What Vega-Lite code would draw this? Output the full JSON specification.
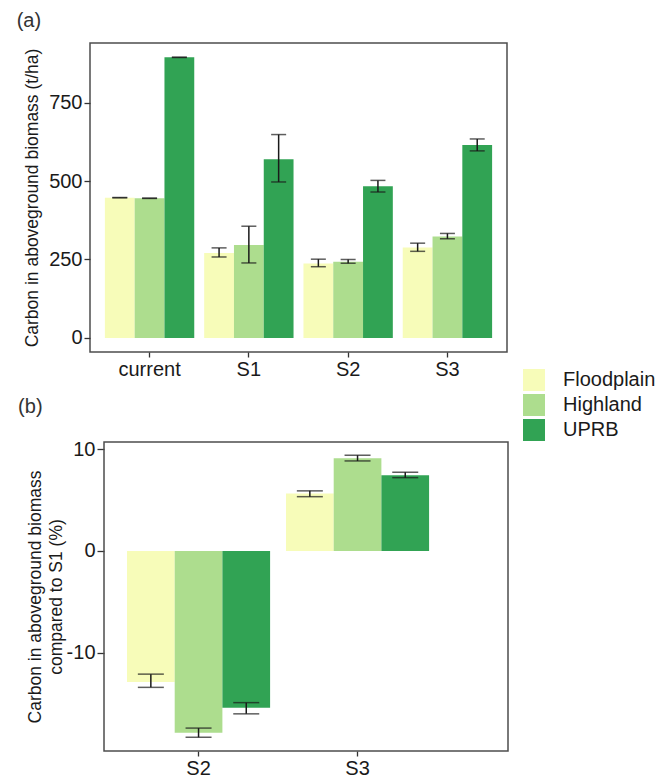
{
  "$schema": "https://vega.github.io/schema/vega-lite/v6.json",
  "padding": {"left": 15, "top": 10, "right": 5, "bottom": 5},
  "spacing": 17,
  "config": {
    "font": "Liberation Sans",
    "view": {"stroke": "#4d4d4d", "strokeWidth": 1.5},
    "axis": {"grid": false, "domain": false, "tickColor": "#333333", "tickSize": 6, "tickWidth": 1.3, "labelColor": "#1a1a1a", "labelFontSize": 20, "titleFontSize": 17.5, "titleFontWeight": "normal", "titleColor": "#1a1a1a", "labelPadding": 2},
    "title": {"fontSize": 20, "fontWeight": "normal", "anchor": "start", "color": "#333333", "frame": "bounds"}
  },
  "resolve": {"scale": {"color": "shared", "xOffset": "independent"}},
  "vconcat": [
    {
      "title": {"text": "(a)", "offset": 12, "dx": -7},
      "width": 417,
      "height": 309,
      "data": {"values": [
        {"scenario": "current", "region": "Floodplain", "value": 447, "lo": 446.5, "hi": 447.5},
        {"scenario": "current", "region": "Highland", "value": 445, "lo": 444.5, "hi": 445.5},
        {"scenario": "current", "region": "UPRB", "value": 894, "lo": 893.5, "hi": 894.5},
        {"scenario": "S1", "region": "Floodplain", "value": 271, "lo": 258, "hi": 287},
        {"scenario": "S1", "region": "Highland", "value": 296, "lo": 239, "hi": 356},
        {"scenario": "S1", "region": "UPRB", "value": 569, "lo": 497, "hi": 648},
        {"scenario": "S2", "region": "Floodplain", "value": 237, "lo": 227, "hi": 251},
        {"scenario": "S2", "region": "Highland", "value": 243, "lo": 238, "hi": 250},
        {"scenario": "S2", "region": "UPRB", "value": 483, "lo": 465, "hi": 502},
        {"scenario": "S3", "region": "Floodplain", "value": 288, "lo": 276, "hi": 302},
        {"scenario": "S3", "region": "Highland", "value": 323, "lo": 316, "hi": 333},
        {"scenario": "S3", "region": "UPRB", "value": 615, "lo": 596, "hi": 634}
      ]},
      "encoding": {
        "x": {"field": "scenario", "type": "nominal", "sort": ["current", "S1", "S2", "S3"], "scale": {"paddingInner": 0.1, "paddingOuter": 0.15}, "axis": {"title": null, "labelAngle": 0, "tickSize": 5}},
        "xOffset": {"field": "region", "type": "nominal", "sort": ["Floodplain", "Highland", "UPRB"], "scale": {"paddingInner": 0, "paddingOuter": 0}}
      },
      "layer": [
        {
          "mark": {"type": "bar"},
          "encoding": {
            "y": {"field": "value", "type": "quantitative", "scale": {"domain": [-44.7, 939.7], "nice": false, "zero": false}, "axis": {"values": [0, 250, 500, 750], "title": "Carbon in aboveground biomass (t/ha)", "titlePadding": 7}},
            "y2": {"datum": 0},
            "color": {"field": "region", "type": "nominal", "scale": {"domain": ["Floodplain", "Highland", "UPRB"], "range": ["#f7fcb9", "#addd8e", "#31a354"]}, "legend": {"title": null, "orient": "none", "legendX": 433, "legendY": 326, "symbolType": "square", "symbolSize": 484, "symbolStrokeWidth": 0, "labelFontSize": 20, "labelColor": "#1a1a1a", "rowPadding": 3, "labelOffset": 18}}
          }
        },
        {
          "mark": {"type": "rule", "color": "#1a1a1a", "strokeWidth": 1.5},
          "encoding": {"y": {"field": "lo", "type": "quantitative"}, "y2": {"field": "hi"}}
        },
        {
          "mark": {"type": "tick", "color": "#1a1a1a", "thickness": 1.5, "size": 15},
          "encoding": {"y": {"field": "lo", "type": "quantitative"}}
        },
        {
          "mark": {"type": "tick", "color": "#1a1a1a", "thickness": 1.5, "size": 15},
          "encoding": {"y": {"field": "hi", "type": "quantitative"}}
        }
      ]
    },
    {
      "title": {"text": "(b)", "offset": 22, "dx": -8},
      "width": 418,
      "height": 309,
      "view": {"stroke": null},
      "data": {"values": [
        {"scenario": "S2", "region": "Floodplain", "value": -12.87, "lo": -13.4, "hi": -12.1},
        {"scenario": "S2", "region": "Highland", "value": -17.85, "lo": -18.3, "hi": -17.4},
        {"scenario": "S2", "region": "UPRB", "value": -15.4, "lo": -16.0, "hi": -14.9},
        {"scenario": "S3", "region": "Floodplain", "value": 5.63, "lo": 5.33, "hi": 5.9},
        {"scenario": "S3", "region": "Highland", "value": 9.1, "lo": 8.84, "hi": 9.4},
        {"scenario": "S3", "region": "UPRB", "value": 7.43, "lo": 7.2, "hi": 7.73}
      ]},
      "encoding": {
        "x": {"field": "scenario", "type": "nominal", "sort": ["S2", "S3"], "scale": {"range": [14, 418], "paddingInner": 0.1, "paddingOuter": 0.3205, "align": 0.2257}, "axis": {"title": null, "labelAngle": 0, "tickSize": 5}},
        "xOffset": {"field": "region", "type": "nominal", "sort": ["Floodplain", "Highland", "UPRB"], "scale": {"paddingInner": 0, "paddingOuter": 0}}
      },
      "layer": [
        {
          "mark": {"type": "bar"},
          "encoding": {
            "y": {"field": "value", "type": "quantitative", "scale": {"domain": [-19.65, 10.7], "nice": false, "zero": false}, "axis": {"values": [-10, 0, 10], "labelExpr": "'' + datum.value", "title": ["Carbon in aboveground biomass", "compared to S1 (%)"], "titleLineHeight": 21, "titlePadding": 1, "offset": -14, "tickSize": 7}},
            "y2": {"datum": 0},
            "color": {"field": "region", "type": "nominal"}
          }
        },
        {
          "mark": {"type": "rule", "color": "#1a1a1a", "strokeWidth": 1.5},
          "encoding": {"y": {"field": "lo", "type": "quantitative"}, "y2": {"field": "hi"}}
        },
        {
          "mark": {"type": "tick", "color": "#1a1a1a", "thickness": 1.5, "size": 26},
          "encoding": {"y": {"field": "lo", "type": "quantitative"}}
        },
        {
          "mark": {"type": "tick", "color": "#1a1a1a", "thickness": 1.5, "size": 26},
          "encoding": {"y": {"field": "hi", "type": "quantitative"}}
        },
        {
          "data": {"values": [{"frame": "panel"}]},
          "mark": {"type": "rect", "filled": false, "stroke": "#4d4d4d", "strokeWidth": 1.5},
          "encoding": {
            "x": {"datum": "S2", "bandPosition": -0.1607},
            "x2": {"datum": "S3", "bandPosition": 1.5515},
            "xOffset": null,
            "y": {"datum": 10.7},
            "y2": {"datum": -19.65}
          }
        }
      ]
    }
  ]
}
